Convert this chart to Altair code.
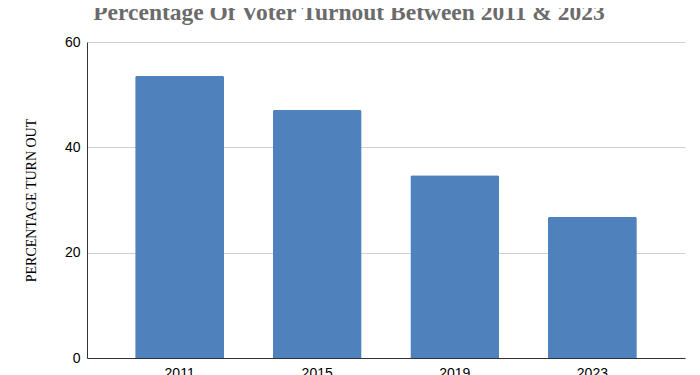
import altair as alt
import pandas as pd

years = ["2011", "2015", "2019", "2023"]
turnout = [53.6, 47.1, 34.7, 26.8]
y_ticks = [0, 20, 40, 60]

df = pd.DataFrame({"year": years, "turnout": turnout})

LABEL_FONT = "Liberation Sans"

chart = (
    alt.Chart(df)
    .mark_bar(color="#4f81bd", cornerRadiusTopLeft=2, cornerRadiusTopRight=2)
    .encode(
        x=alt.X(
            "year:N",
            sort=years,
            title=None,
            scale=alt.Scale(paddingInner=0.354, paddingOuter=0.35),
            axis=alt.Axis(
                labelAngle=0,
                labelFont=LABEL_FONT,
                labelFontSize=14,
                labelColor="#000000",
                labelPadding=8,
                ticks=False,
                domainColor="#333333",
                domainWidth=1,
                grid=False,
            ),
        ),
        y=alt.Y(
            "turnout:Q",
            title="PERCENTAGE TURN OUT",
            scale=alt.Scale(domain=[0, 60], nice=False),
            axis=alt.Axis(
                values=y_ticks,
                labelFont=LABEL_FONT,
                labelFontSize=14,
                labelColor="#000000",
                labelPadding=7,
                ticks=False,
                domainColor="#333333",
                domainWidth=1,
                gridColor="#d0d0d0",
                titleFont="Liberation Serif",
                titleFontSize=14,
                titleFontWeight="normal",
                titleColor="#000000",
                titlePadding=26,
            ),
        ),
    )
    .properties(
        width=598,
        height=316,
        title=alt.TitleParams(
            "Percentage Of Voter Turnout Between 2011 & 2023",
            font="Liberation Serif",
            fontSize=23.5,
            fontWeight="bold",
            color="#6b6b6b",
            anchor="middle",
            baseline="alphabetic",
            offset=-8,
            dx=-37,
        ),
        autosize=alt.AutoSizeParams(type="none"),
        padding={"left": 79, "top": 34, "right": 7, "bottom": 17},
    )
    .configure_view(stroke=None)
)

chart.save("out.html", embed_options={"renderer": "svg", "actions": False})
